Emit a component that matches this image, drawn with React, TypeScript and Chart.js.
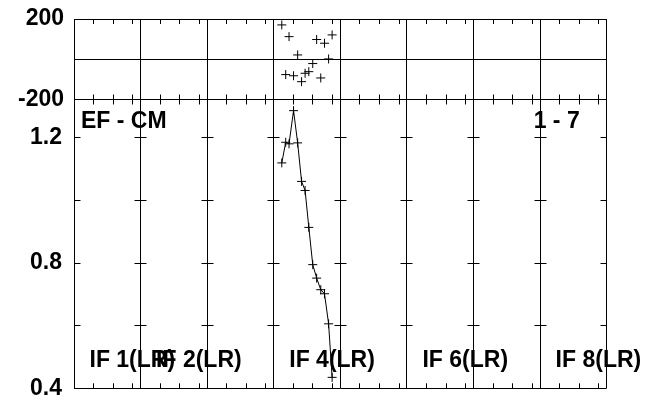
import React, { useEffect, useRef } from "react";
import { Chart, registerables } from "chart.js";

Chart.register(...registerables);

// ---- data ----
const N_IF = 8; // number of IF panels
const SPAN = 3.4; // hours shown in each IF panel
const MINOR_STEP = 1; // hour ticks inside each panel
const DATA_IF = 4; // IF that holds the data
const IF_LABELS = [1, 2, 4, 6, 8];
const TIMES = [0.41, 0.61, 0.78, 1.01, 1.22, 1.42, 1.6, 1.79, 1.99, 2.19, 2.4, 2.59, 2.8, 2.98];
const AMP = [1.12, 1.186, 1.181, 1.287, 1.184, 1.061, 1.032, 0.914, 0.795, 0.752, 0.715, 0.702, 0.606, 0.435];
const PHASE = [170.6, -76.1, 112.4, -82.1, 21.4, -111.4, -69.7, -61.7, -21.4, 98, -93, 79.6, 1.5, 120.9];
const AMP_MIN = 0.4;
const AMP_MAX = 1.3226;
const AMP_TICKS = [0.4, 0.6, 0.8, 1.0, 1.2];
const AMP_LABELS = [0.4, 0.8, 1.2];
const PHASE_MIN = -200;
const PHASE_MAX = 200;
const PHASE_TICKS = [-200, 0, 200];
const PHASE_LABELS = [-200, 200];
const TITLE_LEFT = "EF - CM";
const TITLE_RIGHT = "1 - 7";

const FONT_FAMILY = '"Liberation Sans", Arial, Helvetica, sans-serif';

const align = (p: number) => Math.round(p - 0.5) + 0.5;

const decorPlugin = {
  id: "decor",
  afterDraw(chart: any) {
    const { ctx, chartArea, scales } = chart;
    const x = scales.x;
    const yA = scales.yAmp;
    const yP = scales.yPhase;
    ctx.save();
    ctx.strokeStyle = "#000";
    ctx.lineWidth = 1;
    ctx.beginPath();
    // minor time ticks
    for (let i = 0; i < N_IF; i++) {
      for (let k = MINOR_STEP; k < SPAN - 1e-9; k += MINOR_STEP) {
        const px = align(x.getPixelForValue(i * SPAN + k));
        ctx.moveTo(px, yP.top);
        ctx.lineTo(px, yP.top + 5);
        ctx.moveTo(px, yP.bottom - 5);
        ctx.lineTo(px, yP.bottom + 5);
        ctx.moveTo(px, yA.bottom);
        ctx.lineTo(px, yA.bottom - 5);
      }
    }
    // amplitude ticks on every panel boundary
    for (let i = 0; i <= N_IF; i++) {
      const px = align(x.getPixelForValue(i * SPAN));
      AMP_TICKS.forEach((v) => {
        if (v <= AMP_MIN) return;
        const py = align(yA.getPixelForValue(v));
        ctx.moveTo(Math.max(px - 6, chartArea.left), py);
        ctx.lineTo(Math.min(px + 6, chartArea.right), py);
      });
    }
    ctx.stroke();

    // texts
    ctx.fillStyle = "#000";
    ctx.font = `bold 23px ${FONT_FAMILY}`;
    ctx.textBaseline = "alphabetic";
    ctx.textAlign = "left";
    ctx.fillText(TITLE_LEFT, chartArea.left + 7, yP.bottom + 28);
    ctx.textAlign = "right";
    ctx.fillText(TITLE_RIGHT, chartArea.right - 27, yP.bottom + 28);
    ctx.textAlign = "left";
    IF_LABELS.forEach((n) => {
      const px = x.getPixelForValue((n - 1) * SPAN);
      ctx.fillText(`IF ${n}(LR)`, px + 15.5, yA.bottom - 21);
    });
    ctx.restore();
  },
};

export default function App() {
  const canvasRef = useRef<HTMLCanvasElement | null>(null);

  useEffect(() => {
    if (!canvasRef.current) return;
    const xs = TIMES.map((t) => (DATA_IF - 1) * SPAN + t);
    const boundaries = Array.from({ length: N_IF + 1 }, (_, i) => i * SPAN);
    const tickFont = { family: FONT_FAMILY, size: 23, weight: "bold" as const, lineHeight: 0.9 };
    const fitLeft = (s: any) => {
      s.width = 74;
      s.paddingTop = 0;
      s.paddingBottom = 0;
    };

    const chart = new Chart(canvasRef.current, {
      type: "line",
      data: {
        datasets: [
          {
            label: "Amplitude",
            data: xs.map((x, i) => ({ x, y: AMP[i] })),
            yAxisID: "yAmp",
            borderColor: "#000",
            borderWidth: 1,
            tension: 0,
            pointStyle: "cross",
            pointRadius: 4.5,
            pointBorderColor: "#000",
            pointBorderWidth: 1,
            pointBackgroundColor: "#000",
          },
          {
            label: "Phase",
            data: xs.map((x, i) => ({ x, y: PHASE[i] })),
            yAxisID: "yPhase",
            showLine: false,
            borderColor: "#000",
            pointStyle: "cross",
            pointRadius: 4.5,
            pointBorderColor: "#000",
            pointBorderWidth: 1,
          },
        ],
      },
      options: {
        animation: false,
        responsive: false,
        devicePixelRatio: 1,
        layout: { padding: { left: 0, right: 38.3, top: 19, bottom: 10.7 } },
        plugins: { legend: { display: false }, tooltip: { enabled: false } },
        scales: {
          x: {
            type: "linear",
            min: 0,
            max: N_IF * SPAN,
            afterBuildTicks: (s: any) => {
              s.ticks = boundaries.map((v) => ({ value: v }));
            },
            afterFit: (s: any) => {
              s.height = 0;
              s.paddingLeft = 0;
              s.paddingRight = 0;
            },
            ticks: { display: false },
            grid: { color: "#000", lineWidth: 1, drawTicks: false },
            border: { display: false },
          },
          yAmp: {
            type: "linear",
            position: "left",
            stack: "panels",
            stackWeight: 288.8,
            min: AMP_MIN,
            max: AMP_MAX,
            afterBuildTicks: (s: any) => {
              s.ticks = AMP_TICKS.map((v) => ({ value: v }));
            },
            afterFit: fitLeft,
            ticks: {
              color: "#000",
              font: tickFont,
              padding: 12,
              autoSkip: false,
              callback: (v: any) => (AMP_LABELS.some((l) => Math.abs(l - v) < 1e-6) ? Number(v).toFixed(1) : ""),
            },
            grid: {
              drawTicks: false,
              lineWidth: 1,
              color: (c: any) => (Math.abs(c.tick?.value - AMP_MIN) < 1e-6 ? "#000" : "rgba(0,0,0,0)"),
            },
            border: { display: false },
          },
          yPhase: {
            type: "linear",
            position: "left",
            stack: "panels",
            stackWeight: 80.5,
            min: PHASE_MIN,
            max: PHASE_MAX,
            afterBuildTicks: (s: any) => {
              s.ticks = PHASE_TICKS.map((v) => ({ value: v }));
            },
            afterFit: fitLeft,
            ticks: {
              color: "#000",
              font: tickFont,
              padding: 10,
              autoSkip: false,
              callback: (v: any) => (PHASE_LABELS.includes(Number(v)) ? String(v) : ""),
            },
            grid: { drawTicks: false, lineWidth: 1, color: "#000" },
            border: { display: false },
          },
        },
      },
      plugins: [decorPlugin],
    } as any);

    return () => chart.destroy();
  }, []);

  return (
    <div style={{ position: "absolute", left: 0, top: 0, width: 645, height: 399, background: "#fff" }}>
      <canvas ref={canvasRef} width={645} height={399} style={{ display: "block" }} />
    </div>
  );
}
